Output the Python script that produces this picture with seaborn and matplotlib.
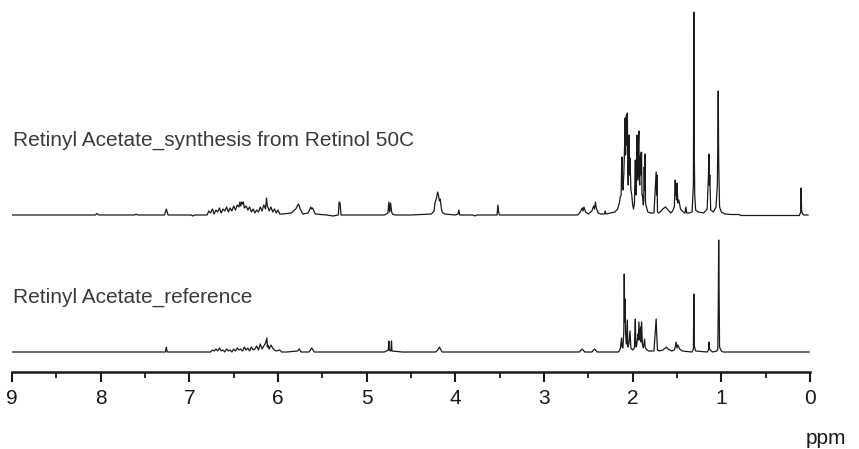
import numpy as np
import pandas as pd
import matplotlib.pyplot as plt
import seaborn as sns

# 1H NMR traces: (ppm, intensity in arbitrary units)
synth_points = [
    (9.0, 0), (8.06, 0), (8.04, 1.5), (8.02, 0), (7.62, 0), (7.6, 0.8), (7.58, 0),
    (7.28, 0), (7.26, 6), (7.24, 0), (6.98, 0), (6.96, -1), (6.94, 0),
    (6.80, 0), (6.78, 4), (6.76, 2), (6.74, 6), (6.72, 1), (6.70, 5), (6.68, 3),
    (6.66, 7), (6.64, 2), (6.62, 6), (6.60, 4), (6.58, 8), (6.56, 3), (6.54, 7),
    (6.52, 4), (6.50, 9), (6.48, 5), (6.46, 10), (6.44, 8), (6.43, 13), (6.42, 9),
    (6.41, 13), (6.40, 11), (6.39, 13), (6.38, 7), (6.36, 9), (6.34, 5), (6.32, 8),
    (6.30, 3), (6.28, 6), (6.26, 2), (6.24, 5), (6.22, 3), (6.20, 8), (6.18, 4),
    (6.16, 10), (6.14, 6), (6.13, 17), (6.12, 9), (6.11, 7), (6.10, 4), (6.08, 8),
    (6.06, 3), (6.04, 6), (6.02, 2), (6.00, 5), (5.98, 1), (5.95, 1), (5.85, 2),
    (5.80, 6), (5.77, 11), (5.76, 9), (5.75, 6), (5.72, 1), (5.66, 2), (5.63, 8),
    (5.62, 6), (5.61, 7), (5.58, 1), (5.45, 0), (5.38, -1), (5.32, 0), (5.31, 13),
    (5.30, 12), (5.29, 0), (5.10, 0), (4.80, 0), (4.76, 2), (4.75, 13), (4.74, 3),
    (4.73, 12), (4.72, 4), (4.71, 1), (4.68, 0), (4.50, 0), (4.27, 1), (4.24, 4),
    (4.23, 12), (4.22, 15), (4.21, 18), (4.20, 23), (4.19, 20), (4.18, 14), (4.17, 16),
    (4.16, 8), (4.15, 3), (4.12, 1), (4.00, 0), (3.97, 1), (3.96, 5), (3.95, 0),
    (3.80, 0), (3.78, -1), (3.76, 0), (3.53, 0), (3.52, 10), (3.51, 2), (3.50, 0),
    (3.20, 0), (2.62, 0), (2.59, 3), (2.57, 7), (2.56, 4), (2.55, 8), (2.53, 3),
    (2.50, 1), (2.46, 4), (2.44, 9), (2.43, 6), (2.42, 13), (2.41, 7), (2.39, 2),
    (2.36, 1), (2.32, 1), (2.31, 4), (2.30, 1), (2.25, 2), (2.20, 3), (2.17, 6),
    (2.15, 12), (2.14, 18), (2.13, 20), (2.125, 45), (2.12, 58), (2.115, 30), (2.11, 25),
    (2.10, 40), (2.09, 72), (2.085, 97), (2.08, 60), (2.075, 95), (2.07, 100), (2.065, 70),
    (2.06, 102), (2.055, 45), (2.05, 30), (2.045, 60), (2.04, 80), (2.035, 40),
    (2.03, 57), (2.02, 25), (2.01, 20), (2.00, 10), (1.99, 6), (1.98, 12), (1.97, 55),
    (1.965, 25), (1.96, 20), (1.955, 45), (1.95, 80), (1.945, 35), (1.94, 40), (1.935, 70),
    (1.93, 84), (1.925, 35), (1.92, 30), (1.915, 55), (1.91, 62), (1.905, 40), (1.90, 63),
    (1.895, 20), (1.89, 20), (1.88, 10), (1.875, 15), (1.87, 48), (1.865, 25),
    (1.86, 61), (1.855, 12), (1.85, 10), (1.83, 3), (1.80, 2), (1.76, 2), (1.735, 43),
    (1.73, 20), (1.725, 40), (1.72, 3), (1.71, 2), (1.69, 3), (1.66, 6), (1.63, 8),
    (1.60, 5), (1.57, 2), (1.55, 4), (1.53, 8), (1.52, 35), (1.515, 20), (1.51, 25),
    (1.505, 15), (1.50, 32), (1.49, 12), (1.48, 15), (1.46, 6), (1.43, 3), (1.41, 2),
    (1.40, 8), (1.39, 2), (1.36, 2), (1.33, 3), (1.315, 30), (1.31, 203), (1.305, 65),
    (1.30, 20), (1.29, 5), (1.26, 3), (1.20, 2), (1.16, 6), (1.145, 40), (1.14, 61),
    (1.135, 30), (1.13, 40), (1.12, 5), (1.09, 3), (1.06, 8), (1.045, 30), (1.04, 70),
    (1.035, 124), (1.03, 55), (1.02, 8), (1.00, 3), (0.96, 1), (0.88, 0.5), (0.80, 0.5),
    (0.78, -0.5), (0.12, -0.5), (0.105, 3), (0.10, 27), (0.095, 5), (0.09, 2),
    (0.07, 0), (0.02, 0),
]

ref_points = [
    (9.0, 0), (7.27, 0), (7.26, 4.7), (7.25, 0), (6.76, 0), (6.74, 2), (6.72, 1),
    (6.70, 3), (6.68, 1), (6.66, 4), (6.64, 1), (6.62, 2), (6.60, 0), (6.58, 3),
    (6.56, 1), (6.54, 2), (6.52, 0), (6.50, 3), (6.48, 1), (6.46, 4), (6.44, 2),
    (6.42, 3), (6.40, 1), (6.38, 5), (6.36, 2), (6.34, 4), (6.32, 1), (6.30, 5),
    (6.28, 2), (6.26, 3), (6.24, 6), (6.22, 2), (6.20, 8), (6.18, 3), (6.16, 6),
    (6.14, 9), (6.125, 14), (6.12, 5), (6.115, 7), (6.10, 3), (6.08, 7), (6.06, 4),
    (6.04, 2), (6.02, 1), (5.98, 2), (5.96, 0), (5.90, 0), (5.78, 1), (5.76, 3),
    (5.74, 0), (5.65, 0), (5.62, 4), (5.59, 0), (4.80, 0), (4.755, 2), (4.75, 11),
    (4.745, 2), (4.73, 1), (4.725, 3), (4.72, 11), (4.715, 1), (4.60, 0), (4.22, 0),
    (4.19, 3), (4.18, 5), (4.15, 0), (2.60, 0), (2.57, 3), (2.54, 0), (2.46, 0),
    (2.43, 3), (2.40, 0), (2.16, 0), (2.14, 3), (2.125, 14), (2.12, 5), (2.11, 4),
    (2.10, 20), (2.095, 78), (2.09, 30), (2.085, 53), (2.08, 20), (2.075, 12), (2.07, 8),
    (2.06, 32), (2.055, 6), (2.05, 5), (2.04, 10), (2.03, 21), (2.02, 4), (2.00, 2),
    (1.99, 3), (1.98, 4), (1.97, 33), (1.965, 8), (1.96, 5), (1.95, 10), (1.94, 18),
    (1.935, 12), (1.93, 30), (1.92, 12), (1.91, 25), (1.905, 10), (1.90, 30), (1.89, 8),
    (1.88, 4), (1.865, 13), (1.86, 5), (1.85, 3), (1.82, 1), (1.76, 1), (1.735, 33),
    (1.73, 20), (1.725, 12), (1.72, 2), (1.70, 1), (1.66, 2), (1.63, 4), (1.62, 5),
    (1.60, 3), (1.56, 1), (1.53, 2), (1.52, 5), (1.51, 10), (1.50, 4), (1.49, 7),
    (1.47, 3), (1.44, 1), (1.33, 0), (1.315, 3), (1.31, 58), (1.305, 6), (1.29, 1),
    (1.16, 0), (1.145, 2), (1.14, 10), (1.135, 3), (1.10, 0), (1.05, 1), (1.04, 3),
    (1.035, 40), (1.03, 112), (1.02, 5), (1.00, 1), (0.98, 0), (0.0, 0),
]

labels = ["Retinyl Acetate_synthesis from Retinol 50C", "Retinyl Acetate_reference"]

sns.set_style("white")
plt.rcParams['font.family'] = ['Liberation Sans', 'DejaVu Sans']

fig = plt.figure(figsize=(8.59, 4.49), dpi=100)
ax = fig.add_axes([12 / 859, 1 - 372 / 449, 798 / 859, 372 / 449])

df_ref = pd.DataFrame(ref_points, columns=["ppm", "I"])
df_syn = pd.DataFrame(synth_points, columns=["ppm", "I"])
df_syn["I"] = df_syn["I"] + 137  # stack the upper trace

for d in [df_ref, df_syn]:
    sns.lineplot(data=d, x="ppm", y="I", sort=False, estimator=None,
                 color="#1a1a1a", lw=0.9, ax=ax)

ax.set_xlim(9, 0)
ax.set_ylim(-20, 352)
ax.set_xticks(range(10))
ax.set_xticks(np.arange(0.5, 9, 1), minor=True)
ax.set_xticklabels([str(i) for i in range(10)])
ax.tick_params(axis="x", which="both", bottom=True)
ax.tick_params(axis="x", which="major", direction="out", length=7.5, width=1.5,
               labelsize=15, pad=5, colors="#1a1a1a")
ax.tick_params(axis="x", which="minor", direction="out", length=4.5, width=1.3, colors="#1a1a1a")
ax.set_yticks([])
ax.set_xlabel("")
ax.set_ylabel("")
for s in ["left", "top", "right"]:
    ax.spines[s].set_visible(False)
ax.spines["bottom"].set_linewidth(1.8)
ax.spines["bottom"].set_color("#1a1a1a")
ax.patch.set_alpha(0)

fig.text(13 / 859, 1 - 140 / 449, labels[0], fontsize=15, color="#3a3a3a", va="center", ha="left")
fig.text(13 / 859, 1 - 297 / 449, labels[1], fontsize=15, color="#3a3a3a", va="center", ha="left")
fig.text(846 / 859, 1 - 438 / 449, "ppm", fontsize=15, color="#1a1a1a", va="center", ha="right")

fig.savefig("out.png", dpi=100)
